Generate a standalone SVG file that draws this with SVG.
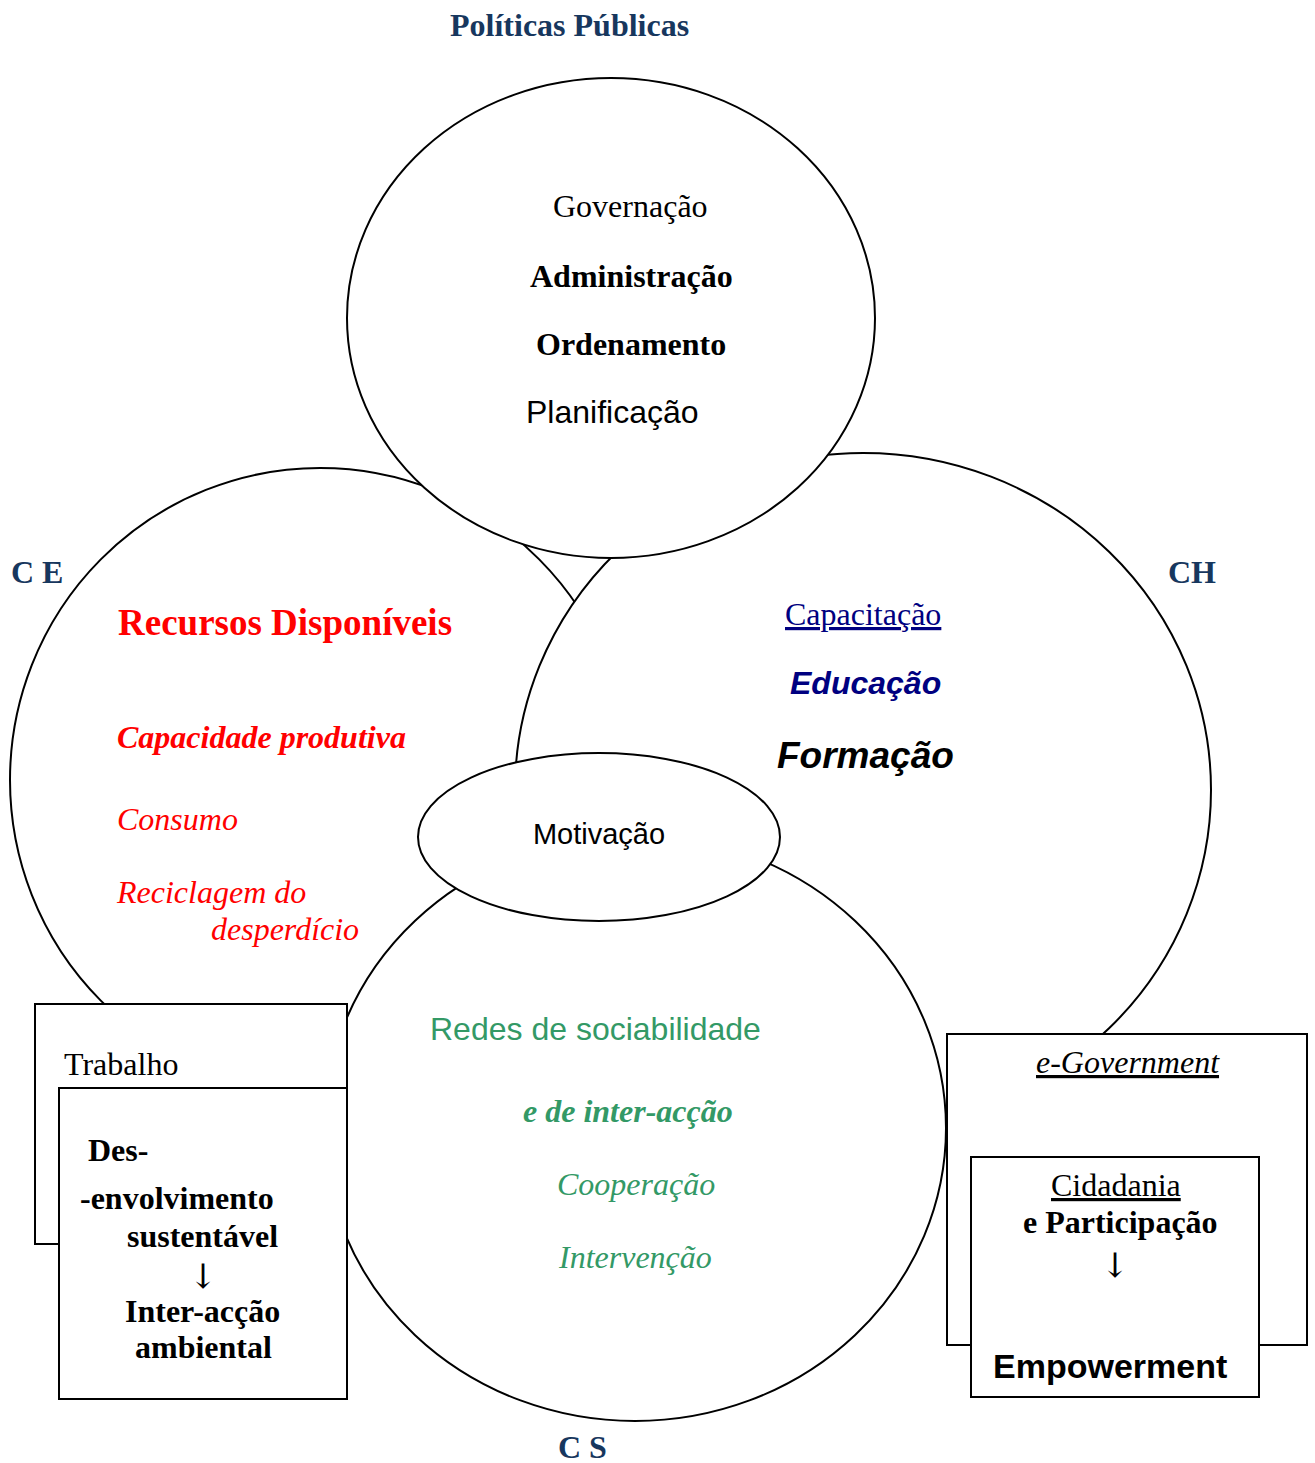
<svg xmlns="http://www.w3.org/2000/svg" width="1315" height="1463" viewBox="0 0 1315 1463">
<style>
.shape{fill:#fff;stroke:#000;stroke-width:2}
.box{fill:#fff;stroke:#000;stroke-width:2}
.serif{font-family:"Liberation Serif","Times New Roman",serif}
.sans{font-family:"Liberation Sans",Arial,sans-serif}
.arrow{font-family:"DejaVu Serif","Liberation Serif",serif;fill:#000}
.b{font-weight:bold}
.i{font-style:italic}
.navy{fill:#17375E}
.red{fill:#FF0000}
.green{fill:#339966}
.blue{fill:#000080}
.u{text-decoration:underline}
</style>
<rect width="1315" height="1463" fill="#fff"/>
<g id="labels">
<text class="serif b navy" x="450" y="36" font-size="32">Políticas Públicas</text>
<text class="serif b navy" x="11" y="583" font-size="32">C E</text>
<text class="serif b navy" x="1168" y="583" font-size="32">CH</text>
<text class="serif b navy" x="558" y="1458" font-size="32">C S</text>
</g>
<g id="ce">
<ellipse class="shape" cx="320" cy="780" rx="310" ry="312"/>
<text class="serif b red" x="118" y="635" font-size="37">Recursos Disponíveis</text>
<text class="serif b i red" x="117" y="748" font-size="32">Capacidade produtiva</text>
<text class="serif i red" x="117" y="830" font-size="32">Consumo</text>
<text class="serif i red" x="117" y="903" font-size="32">Reciclagem do</text>
<text class="serif i red" x="211" y="940" font-size="32">desperdício</text>
</g>
<g id="ch">
<ellipse class="shape" cx="863" cy="790" rx="348" ry="337"/>
<text class="serif blue u" x="785" y="625" font-size="32">Capacitação</text>
<text class="sans b i blue" x="790" y="694" font-size="32">Educação</text>
<text class="sans b i" x="777" y="768" font-size="37">Formação</text>
</g>
<g id="pp">
<ellipse class="shape" cx="611" cy="318" rx="264" ry="240"/>
<text class="serif" x="553" y="217" font-size="32">Governação</text>
<text class="serif b" x="530" y="287" font-size="32">Administração</text>
<text class="serif b" x="536" y="355" font-size="32">Ordenamento</text>
<text class="sans" x="526" y="423" font-size="32">Planificação</text>
</g>
<g id="cs">
<ellipse class="shape" cx="635" cy="1128" rx="311" ry="293"/>
<text class="sans green" x="430" y="1040" font-size="32">Redes de sociabilidade</text>
<text class="serif b i green" x="523" y="1122" font-size="32">e de inter-acção</text>
<text class="serif i green" x="557" y="1195" font-size="32">Cooperação</text>
<text class="serif i green" x="559" y="1268" font-size="32">Intervenção</text>
</g>
<g id="motivacao">
<ellipse class="shape" cx="599" cy="837" rx="181" ry="84"/>
<text class="sans" x="599" y="844" font-size="29" text-anchor="middle">Motivação</text>
</g>
<g id="trabalho">
<rect class="box" x="35" y="1004" width="312" height="240"/>
<text class="serif" x="64" y="1075" font-size="32">Trabalho</text>
</g>
<g id="desenvolvimento">
<rect class="box" x="59" y="1088" width="288" height="311"/>
<text class="serif b" x="88" y="1161" font-size="32">Des-</text>
<text class="serif b" x="80" y="1209" font-size="32">-envolvimento</text>
<text class="serif b" x="127" y="1247" font-size="32">sustentável</text>
<text class="arrow" x="203" y="1288" font-size="34" text-anchor="middle">↓</text>
<text class="serif b" x="125" y="1322" font-size="32">Inter-acção</text>
<text class="serif b" x="135" y="1358" font-size="32">ambiental</text>
</g>
<g id="egov">
<rect class="box" x="947" y="1034" width="360" height="311"/>
<text class="serif i u" x="1036" y="1073" font-size="32">e-Government</text>
</g>
<g id="cidadania">
<rect class="box" x="971" y="1157" width="288" height="240"/>
<text class="serif u" x="1051" y="1196" font-size="32">Cidadania</text>
<text class="serif b" x="1023" y="1233" font-size="32">e Participação</text>
<text class="arrow" x="1115" y="1277" font-size="34" text-anchor="middle">↓</text>
<text class="sans b" x="993" y="1378" font-size="34">Empowerment</text>
</g>
<g id="connectors"></g>
</svg>
